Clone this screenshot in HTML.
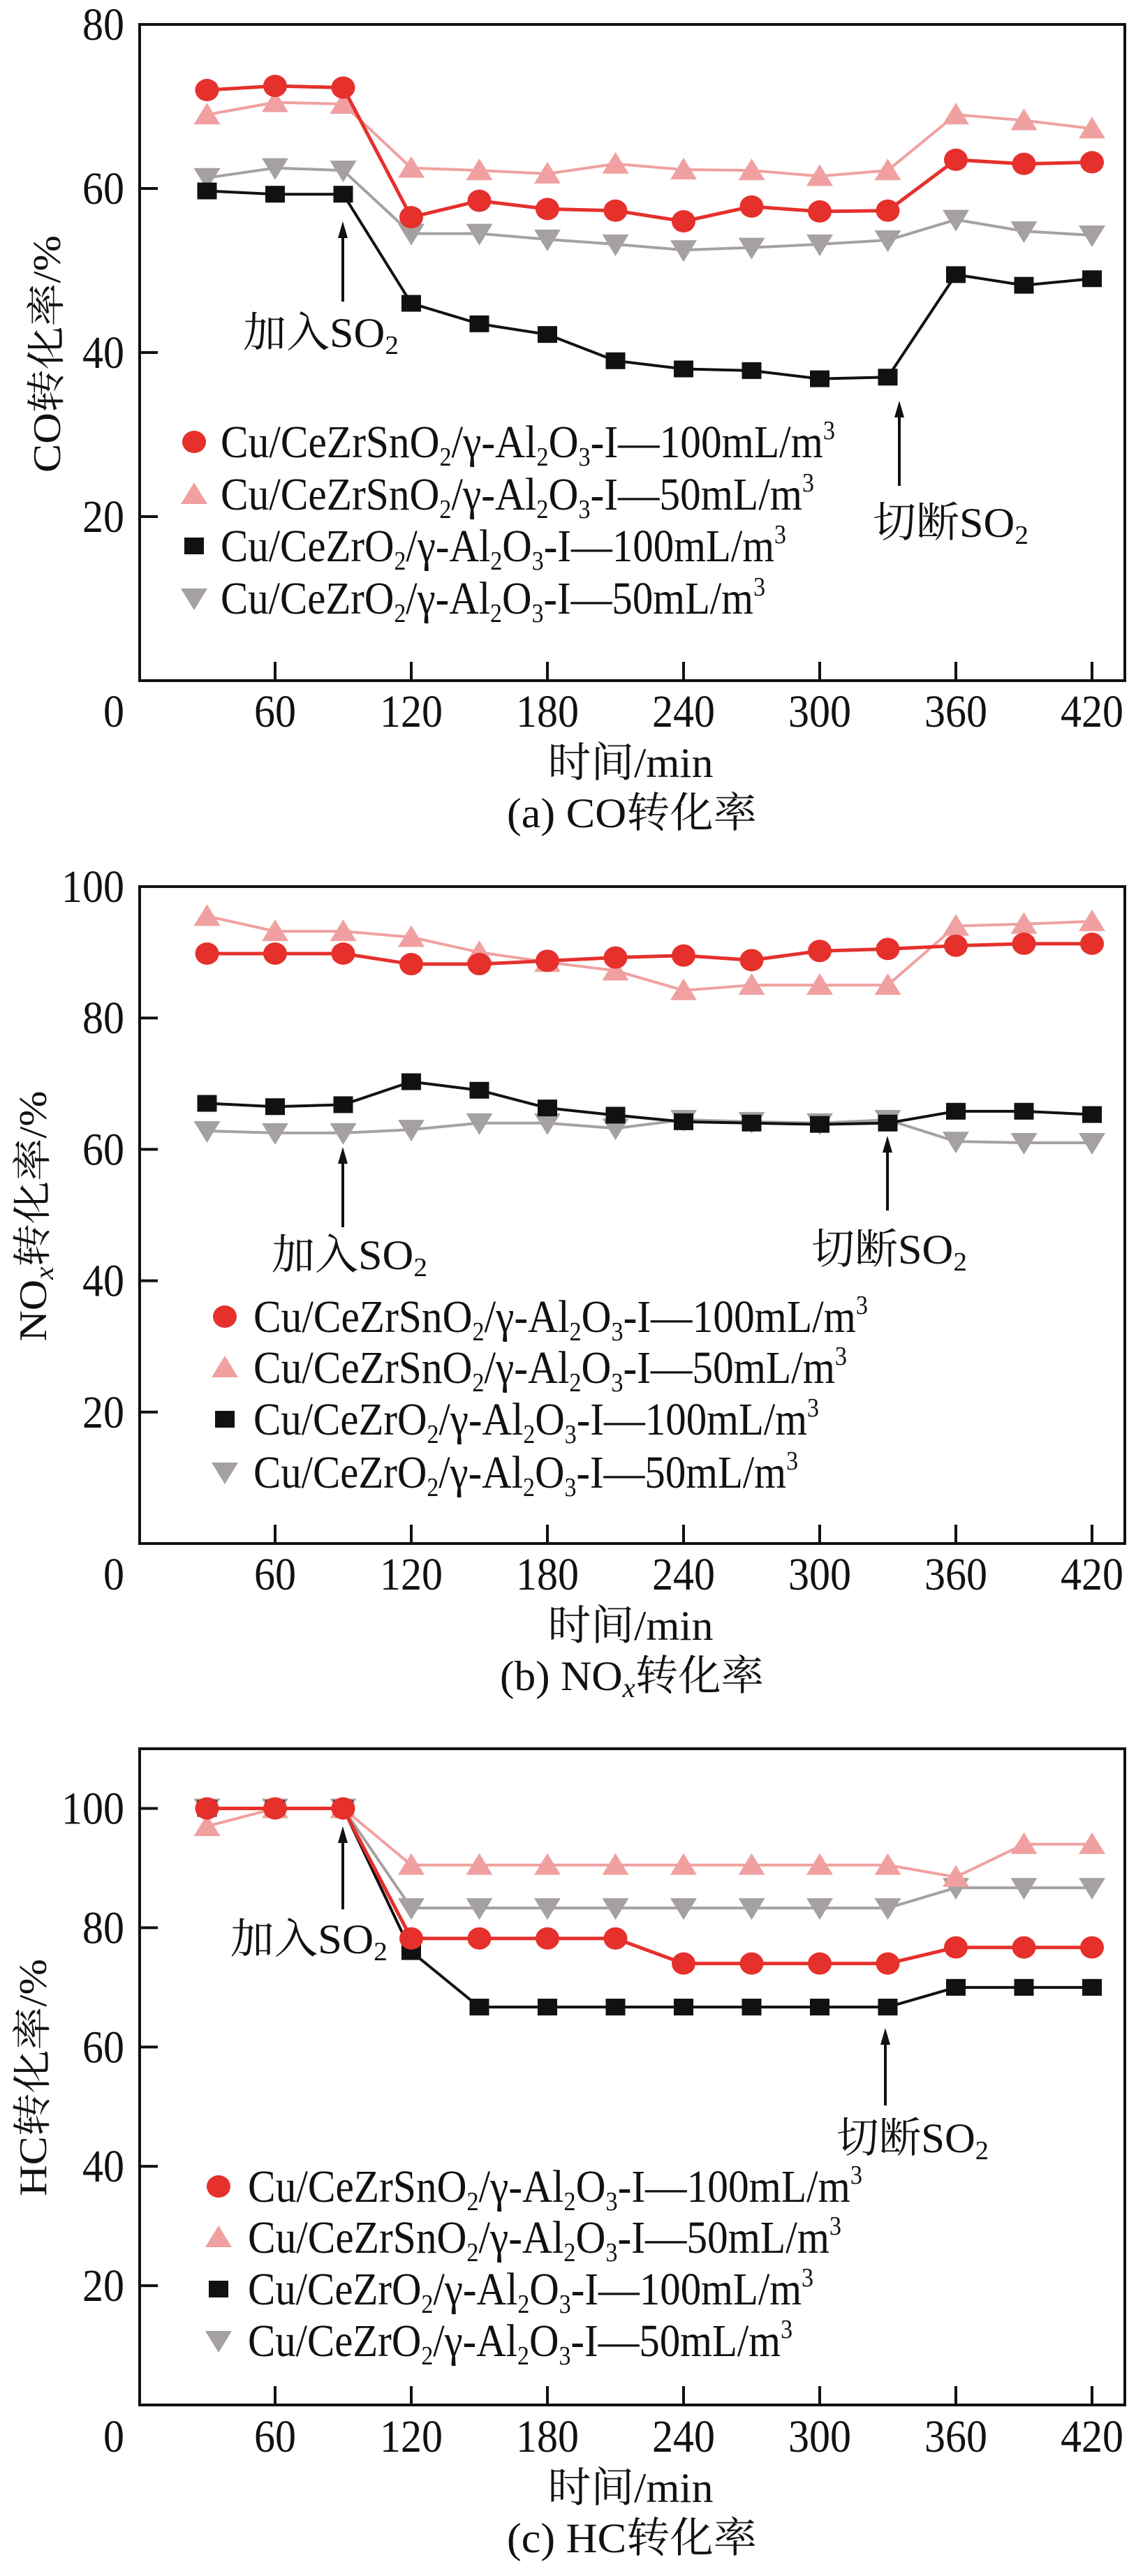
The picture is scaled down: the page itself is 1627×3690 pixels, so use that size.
<!DOCTYPE html>
<html><head><meta charset="utf-8"><style>
html,body{margin:0;padding:0;background:#fff;}
svg{display:block;font-family:"Liberation Serif","Noto Serif CJK SC",serif;}
</style></head><body>
<svg id="fig" width="1627" height="3690" viewBox="0 0 1627 3690" xmlns="http://www.w3.org/2000/svg"></svg>
<script>
const times = [30,60,90,120,150,180,210,240,270,300,330,360,390,420];
const xTicks = [0,60,120,180,240,300,360,420];
const coRedCircle = [72,72.5,72.3,56.5,58.5,57.5,57.3,56,57.8,57.2,57.3,63.5,63,63.2];
const coPinkTri = [69,70.5,70.3,62.5,62.2,61.8,63,62.3,62.2,61.5,62.2,69,68.3,67.3];
const coBlackSq = [59.7,59.3,59.3,46,43.5,42.2,39,38,37.8,36.8,37,49.5,48.2,49];
const coGrayTri = [61.3,62.5,62.2,54.5,54.5,53.8,53.2,52.5,52.8,53.2,53.7,56.2,54.8,54.3];
const coYTicks = [20,40,60,80];
const noRedCircle = [89.8,89.8,89.8,88.2,88.2,88.7,89.2,89.5,88.8,90.2,90.5,91,91.3,91.3];
const noPinkTri = [95.5,93.2,93.2,92.3,90,88.5,87.2,84.2,85,85,85,94,94.3,94.7];
const noBlackSq = [67,66.5,66.8,70.3,69,66.3,65.2,64.2,64,63.8,64,65.8,65.8,65.3];
const noGrayTri = [62.8,62.5,62.5,63,64,64,63.2,64.5,64.2,64,64.5,61.2,61,61];
const noYTicks = [20,40,60,80,100];
const hcRedCircle = [100,100,100,78.2,78.2,78.2,78.2,74,74,74,74,76.7,76.7,76.7];
const hcPinkTri = [97,100,100,90.5,90.5,90.5,90.5,90.5,90.5,90.5,90.5,88.5,94,94];
const hcBlackSq = [100,100,100,76,66.7,66.7,66.7,66.7,66.7,66.7,66.7,70,70,70];
const hcGrayTri = [100,100,100,83.3,83.3,83.3,83.3,83.3,83.3,83.3,83.3,86.7,86.7,86.7];
const hcYTicks = [20,40,60,80,100];

const NS="http://www.w3.org/2000/svg";
const svg=document.getElementById('fig');
function mk(tag,attrs,parent){const e=document.createElementNS(NS,tag);for(const k in attrs)e.setAttribute(k,attrs[k]);(parent||svg).appendChild(e);return e;}
const RED='#e5302c',PINK='#f0a0a0',BLACK='#111',GRAY='#a5a1a1';
const L=200,R=1611,X0=199,XPER=195/60;
function xs(t){return X0+t*XPER;}

function marker(g,type,cx,cy,color){
  let e;
  if(type==='circle') e=mk('ellipse',{cx:cx,cy:cy,rx:17,ry:16,fill:color},g);
  else if(type==='up') e=mk('polygon',{points:`${cx-19},${cy+14} ${cx+19},${cy+14} ${cx},${cy-17}`,fill:color},g);
  else if(type==='down') e=mk('polygon',{points:`${cx-19},${cy-14} ${cx+19},${cy-14} ${cx},${cy+17}`,fill:color},g);
  else e=mk('rect',{x:cx-14,y:cy-12,width:28,height:24,fill:color},g);
  return e;
}

function legendText(g,x,y,base,conc){
  const t=mk('text',{x:x,y:y,'font-size':66,fill:'#111',textLength:conc==='100'?(base==='Sn'?880:810):(base==='Sn'?850:780),lengthAdjust:'spacingAndGlyphs'},g);
  const parts=[['Cu/CeZr'+(base==='Sn'?'Sn':'')+'O',0],['2','sub'],['/γ-Al',0],['2','sub'],['O',0],['3','sub'],['-I—'+conc+'mL/m',0],['3','sup']];
  parts.forEach(p=>{const s=mk('tspan',{},t);s.textContent=p[0];
    if(p[1]==='sub'){s.setAttribute('font-size','38');s.setAttribute('dy','12');}
    else if(p[1]==='sup'){s.setAttribute('font-size','38');s.setAttribute('dy','-26');}
    else if(s.previousSibling){const prev=s.previousSibling;if(prev.getAttribute&&prev.getAttribute('dy')==='12')s.setAttribute('dy','-12');}
  });
  return t;
}

function panel(cfg){
  const g=mk('g',{});
  
  
  const top=cfg.top,bot=cfg.bot;
  function ys(v){return bot-(v-cfg.ymin)/(cfg.ymax-cfg.ymin)*(bot-top);}
  const frame=mk('rect',{x:L,y:top,width:R-L,height:bot-top,fill:'none',stroke:'#111','stroke-width':4},g);
  
  
  cfg.yt.forEach(v=>{
    const tk=mk('line',{x1:L,x2:L+26,y1:ys(v),y2:ys(v),stroke:'#111','stroke-width':4},g);
    
    
    const lb=mk('text',{x:178,y:ys(v)+22,'font-size':66,'text-anchor':'end',fill:'#111',textLength:String(v).length*30,lengthAdjust:'spacingAndGlyphs'},g);
    lb.textContent=v;
    
    
  });
  xTicks.forEach(v=>{
    if(v>0){const tk=mk('line',{x1:xs(v),x2:xs(v),y1:bot,y2:bot-27,stroke:'#111','stroke-width':4},g);
    
    }
    const cx=v===0?163:xs(v);
    const lb=mk('text',{x:cx,y:cfg.tickY,'font-size':66,'text-anchor':'middle',fill:'#111',textLength:String(v).length*30,lengthAdjust:'spacingAndGlyphs'},g);
    lb.textContent=v;
    
    
  });
  const xl=mk('text',{x:903,y:cfg.tickY+72,'font-size':60,'text-anchor':'middle',fill:'#111',textLength:237,lengthAdjust:'spacingAndGlyphs'},g);
  xl.textContent='时间/min';
  
  
  const cap=mk('text',{x:905,y:cfg.tickY+144,'font-size':60,'text-anchor':'middle',fill:'#111',textLength:cfg.capLen,lengthAdjust:'spacingAndGlyphs'},g);
  cfg.caption.forEach(p=>{const s=mk('tspan',p[1]?{'font-style':'italic','font-size':40,dy:10}:(p[2]?{dy:-10}:{}),cap);s.textContent=p[0];});
  
  
  const yl=mk('text',{x:0,y:0,'font-size':56,'text-anchor':'middle',fill:'#111',textLength:cfg.ylLen,lengthAdjust:'spacingAndGlyphs',transform:`translate(${cfg.ylX},${cfg.ylY}) rotate(-90)`},g);
  cfg.ylabel.forEach(p=>{const s=mk('tspan',p[1]?{'font-style':'italic','font-size':38,dy:10}:(p[2]?{dy:-10}:{}),yl);s.textContent=p[0];});
  
  

  const series=[
    {d:cfg.s[3],c:GRAY,t:'down',w:4,n:'series-cezro2-50'},
    {d:cfg.s[2],c:BLACK,t:'square',w:4,n:'series-cezro2-100'},
    {d:cfg.s[1],c:PINK,t:'up',w:4,n:'series-cezrsno2-50'},
    {d:cfg.s[0],c:RED,t:'circle',w:5,n:'series-cezrsno2-100'}];
  series.forEach(se=>{
    const sg=mk('g',{},g);
    
    
    const pts=se.d.map((v,i)=>xs(times[i])+','+ys(v)).join(' ');
    const pl=mk('polyline',{points:pts,fill:'none',stroke:se.c,'stroke-width':se.w,'stroke-linejoin':'round'},sg);
    
    
    se.d.forEach((v,i)=>{const m=marker(sg,se.t,xs(times[i]),ys(v),se.c);
      
      });
  });

  const leg=mk('g',{},g);
  
  
  const lt=[['circle',RED,'Sn','100'],['up',PINK,'Sn','50'],['square',BLACK,'','100'],['down',GRAY,'','50']];
  lt.forEach((e,i)=>{
    const y=cfg.legY[i];
    const m=marker(leg,e[0],cfg.legMX,y,e[1]);
    
    
    const t=legendText(leg,cfg.legTX,y+22,e[2],e[3]);
    
    
  });

  cfg.ann.forEach(a=>{
    const ag=mk('g',{},g);
    
    
    mk('line',{x1:a.x,x2:a.x,y1:a.y1,y2:a.y2+14,stroke:'#111','stroke-width':4},ag);
    mk('polygon',{points:`${a.x-7},${a.y2+20} ${a.x+7},${a.y2+20} ${a.x},${a.y2-4}`,fill:'#111'},ag);
    const t=mk('text',{x:a.tx,y:a.ty,'font-size':60,fill:'#111',textLength:a.len,lengthAdjust:'spacingAndGlyphs'},ag);
    const s1=mk('tspan',{},t);s1.textContent=a.label+'SO';
    const s2=mk('tspan',{'font-size':38,dy:10},t);s2.textContent='2';
  });
}

panel({name:'panel-a-co',top:35,bot:975,ymin:0,ymax:80,yt:coYTicks,tickY:1041,capLen:358,
  caption:[['(a) CO转化率']],ylabel:[['CO转化率/%']],ylX:86,ylY:507,ylLen:340,
  s:[coRedCircle,coPinkTri,coBlackSq,coGrayTri],
  legY:[633,708,782,857],legMX:278,legTX:316,
  ann:[{n:'annotation-add-so2',x:491,y1:432,y2:321,tx:348,ty:497,len:223,label:'加入'},
       {n:'annotation-cut-so2',x:1288,y1:696,y2:578,tx:1250,ty:769,len:223,label:'切断'}]});
panel({name:'panel-b-nox',top:1270,bot:2211,ymin:0,ymax:100,yt:noYTicks,tickY:2277,capLen:378,
  caption:[['(b) NO'],['x',1],['转化率',0,1]],ylabel:[['NO'],['x',1],['转化率/%',0,1]],ylX:66,ylY:1742,ylLen:359,
  s:[noRedCircle,noPinkTri,noBlackSq,noGrayTri],
  legY:[1886,1959,2033,2109],legMX:322,legTX:363,
  ann:[{n:'annotation-add-so2',x:491,y1:1758,y2:1647,tx:389,ty:1818,len:223,label:'加入'},
       {n:'annotation-cut-so2',x:1271,y1:1734,y2:1631,tx:1162,ty:1810,len:223,label:'切断'}]});
panel({name:'panel-c-hc',top:2505,bot:3445,ymin:0,ymax:110,yt:hcYTicks,tickY:3512,capLen:358,
  caption:[['(c) HC转化率']],ylabel:[['HC转化率/%']],ylX:66,ylY:2976,ylLen:340,
  s:[hcRedCircle,hcPinkTri,hcBlackSq,hcGrayTri],
  legY:[3132,3205,3279,3353],legMX:313,legTX:355,
  ann:[{n:'annotation-add-so2',x:491,y1:2735,y2:2620,tx:330,ty:2798,len:225,label:'加入'},
       {n:'annotation-cut-so2',x:1268,y1:3016,y2:2909,tx:1198,ty:3083,len:218,label:'切断'}]});
</script>
</body></html>
